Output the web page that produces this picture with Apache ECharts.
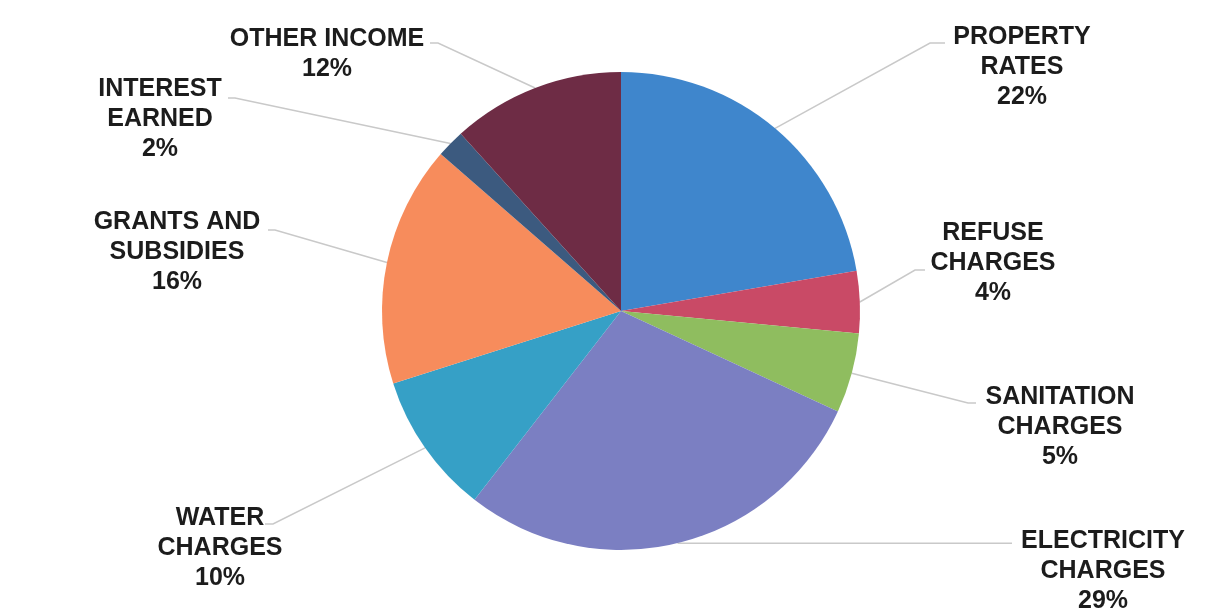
<!DOCTYPE html>
<html>
<head>
<meta charset="utf-8">
<script src="https://cdn.jsdelivr.net/npm/echarts@6/dist/echarts.min.js"></script>
<style>
html,body{margin:0;padding:0;background:#ffffff;}
#chart{width:1221px;height:613px;}
</style>
</head>
<body>
<div id="chart"></div>
<script>
// ---- data ----
var categories = [
  'PROPERTY\nRATES',
  'REFUSE\nCHARGES',
  'SANITATION\nCHARGES',
  'ELECTRICITY\nCHARGES',
  'WATER\nCHARGES',
  'GRANTS AND\nSUBSIDIES',
  'INTEREST\nEARNED',
  'OTHER INCOME'
];
var values = [22.3, 4.2, 5.4, 28.6, 9.6, 16.3, 1.9, 11.7];
var colors = ['#3f86cc', '#c94a66', '#8fbd5f', '#7b7fc2', '#36a0c6', '#f78c5c', '#3c5a7f', '#6e2c45'];

// ---- label placement (layout only) ----
var labelCenters = [
  [1022, 67], [993, 263], [1060, 427], [1103, 571],
  [220, 548], [177, 252], [160, 119], [327, 54]
];
var labelLineEnds = [
  [[930, 43], [945, 43]],
  [[915, 270], [925, 270]],
  [[968, 403], [976, 403]],
  [[1000, null], [1012, null]],
  [[273, 524], [265, 524]],
  [[275, 230], [268, 230]],
  [[235, 98], [228, 98]],
  [[438, 43], [430, 43]]
];

var chart = echarts.init(document.getElementById('chart'), null, {renderer: 'canvas'});

function edgePoint(idx) {
  try {
    var layout = chart.getModel().getSeriesByIndex(0).getData().getItemLayout(idx);
    var a = (layout.startAngle + layout.endAngle) / 2;
    return [layout.cx + layout.r * Math.cos(a), layout.cy + layout.r * Math.sin(a)];
  } catch (e) {
    var total = values.reduce(function (s, v) { return s + v; }, 0);
    var cum = 0;
    for (var i = 0; i < idx; i++) cum += values[i];
    var mid = (cum + values[idx] / 2) / total * Math.PI * 2 - Math.PI / 2;
    return [621 + 239 * Math.cos(mid), 311 + 239 * Math.sin(mid)];
  }
}

var option = {
  backgroundColor: '#ffffff',
  animation: false,
  color: colors,
  series: [{
    type: 'pie',
    center: [621, 311],
    radius: 239,
    startAngle: 90,
    clockwise: true,
    percentPrecision: 0,
    data: categories.map(function (c, i) { return {name: c, value: values[i]}; }),
    itemStyle: {borderWidth: 0},
    label: {
      show: true,
      formatter: '{b}\n{d}%',
      fontFamily: '"Liberation Sans", Arial, sans-serif',
      fontWeight: 'bold',
      fontSize: 25,
      lineHeight: 30,
      color: '#1c1c1c',
      align: 'center'
    },
    labelLine: {
      show: true,
      length: 20,
      length2: 20,
      lineStyle: {color: '#c9c9c9', width: 1.5}
    },
    labelLayout: function (params) {
      var i = params.dataIndex;
      var e = edgePoint(i);
      var ends = labelLineEnds[i].map(function (p) {
        return [p[0], p[1] == null ? e[1] : p[1]];
      });
      return {
        x: labelCenters[i][0],
        y: labelCenters[i][1],
        align: 'center',
        verticalAlign: 'middle',
        labelLinePoints: [e, ends[0], ends[1]]
      };
    }
  }]
};
chart.setOption(option);
</script>
</body>
</html>
